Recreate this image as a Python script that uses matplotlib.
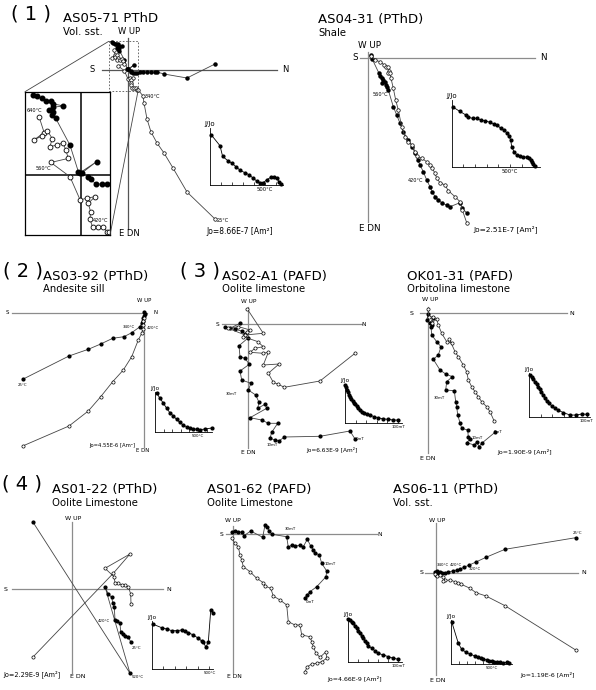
"""
Zijderveld diagrams (PThD / PAFD) with J/Jo decay insets, eight samples.
All projections use plot units measured from the origin; east/down is positive downwards.
"""
import matplotlib
matplotlib.use("Agg")
import matplotlib.pyplot as plt
from matplotlib.patches import Rectangle, ConnectionPatch

W, H = 596, 690

# ---------------------------------------------------------------- data
# (north, east) horizontal projection = filled, (north, down) vertical = open

as0571_hor = [(-16.3, -27.6), (-14.9, -27.2), (-13.4, -26.4), (-12.0, -25.6), (-10.3, -25.6),
              (-9.4, -24.5), (-6.0, -23.8), (-9.7, -23.3), (-10.8, -22.4), (-9.4, -21.8),
              (-10.0, -20.7), (-8.6, -19.5), (-3.7, -10.3), (-0.8, -1.1), (-0.2, -0.8),
              (5.5, -4.6), (0.3, -0.6), (2.6, 0.6), (3.4, 1.5), (5.3, 3.1), (7.2, 3.2),
              (9.2, 3.1), (12, 2), (15, 2), (19, 2), (23, 2), (27, 2), (29, 2), (36, 4),
              (59, 8), (87, -6)]
as0571_ver = [(-14.3, -19.9), (-12.6, -14.6), (-16.1, -12.1), (-13.4, -13.4), (-11.5, -15.3),
              (-9.8, -12.5), (-10.6, -9.8), (-8.0, -10.3), (-6.2, -11.1), (-5.1, -8.6),
              (-4.3, -5.7), (-10.3, -4.3), (-3.7, 0.6), (-0.2, 8.6), (2.1, 8.0), (4.9, 7.5),
              (2.6, 9.8), (3.4, 12.6), (3.2, 15.3), (4.1, 18.0), (6.1, 18.0), (7.8, 17.8),
              (9.0, 19.5), (9.9, 19.5), (15, 26), (16, 33), (19, 49), (23, 62), (29, 73),
              (36, 83), (45, 98), (59, 122), (87, 149)]
as0571_T = [9, 91, 115, 161, 197, 236, 273, 318, 357, 394, 425, 455, 485, 515, 552, 582, 606, 630, 645]
as0571_J = [0.99, 0.77, 0.56, 0.48, 0.43, 0.36, 0.29, 0.24, 0.20, 0.13, 0.08, 0.045, 0.045,
            0.10, 0.15, 0.16, 0.13, 0.06, 0.01]

as0431_hor = [(3, -2.7), (4.3, 1.6), (11, 15.6), (12, 18.3), (13.7, 20.6), (15.3, 22.3), (14.3, 25),
              (17, 24), (17.7, 27.3), (18.7, 29), (20.3, 32.3), (25.3, 49), (28.7, 57.3), (32, 65.6),
              (35.3, 74), (40.3, 82.3), (44.3, 89), (47, 95.6), (49.7, 102.3), (52, 107.3),
              (55.3, 114), (58.7, 122.3), (62, 129), (64.3, 134), (67, 139), (70.3, 142.3),
              (74.3, 145.6), (78.7, 147.3), (82, 149), (92, 145), (94.3, 150.6), (99, 155.6)]
as0431_ver = [(3, -1.7), (7, 2.3), (12, 4), (16.3, 7.3), (17.7, 9), (20.3, 9.6), (21.3, 13),
              (20.3, 15), (22, 15.6), (23, 20.6), (25.3, 30.6), (27.7, 42.3), (30.3, 52.3),
              (33.7, 69), (37, 79), (40.3, 84), (44.3, 87.3), (47, 94), (48.7, 98.3), (53.7, 100.6),
              (58.7, 104), (62, 107.3), (64.3, 110.6), (67, 115.6), (68.7, 120.6), (72, 125),
              (77, 127.3), (80.3, 133), (87, 139), (92, 144), (94.3, 152.3), (98.7, 165)]
as0431_T = [14, 71, 122, 142, 180, 214, 249, 286, 328, 363, 391, 420, 448, 471, 491, 506, 514,
            534, 557, 585, 614, 648, 666, 677, 686, 700, 717]
as0431_J = [1.0, 0.93, 0.87, 0.83, 0.815, 0.815, 0.786, 0.775, 0.747, 0.719, 0.70, 0.646, 0.618,
            0.573, 0.517, 0.45, 0.337, 0.253, 0.197, 0.18, 0.168, 0.158, 0.141, 0.113, 0.074,
            0.045, 0.017]

as0392_hor = [(0, -1), (0.5, 1.3), (-0.2, 3.3), (-0.7, 5.3), (-1.3, 8), (-2.3, 10.6), (-4, 14),
              (-12.3, 20), (-20, 24), (-31.3, 25.6), (-43.3, 31.3), (-55.7, 36.6), (-75, 43.3),
              (-121.3, 66.6)]
as0392_ver = [(-0.5, 5.3), (-0.7, 8.3), (-0.7, 12.3), (-1.3, 16.6), (-2.3, 20.6), (-5.7, 27.3),
              (-12.3, 44), (-20.7, 57.3), (-31.3, 69), (-43.3, 84), (-55.7, 98.3), (-75, 113.3),
              (-121.3, 133.3)]
as0392_T = [20, 58, 97, 136, 174, 213, 252, 291, 329, 368, 407, 445, 484, 523, 581, 659]
as0392_J = [1, 0.87, 0.74, 0.61, 0.49, 0.41, 0.32, 0.24, 0.17, 0.13, 0.096, 0.078, 0.063,
            0.052, 0.07, 0.096]

as02a1_hor = [(-8.3, -1.0), (-18.3, 4.0), (-23.3, 3.0), (-13.3, 5.0), (-6.6, 6.7), (-3.3, 10.0),
              (-0.6, 14.0), (-9.3, 21.4), (-8.3, 32.4), (-3.3, 34.0), (1.0, 40.0), (-8.3, 46.7),
              (-6.6, 55.7), (2.7, 59.0), (0.0, 65.7), (7.4, 70.7), (10.7, 78.0), (9.4, 84.0),
              (16.7, 80.0), (18.4, 84.0), (1.7, 93.4), (13.4, 95.7), (20.0, 99.0), (29.4, 99.0),
              (23.4, 108.0), (21.7, 114.0), (26.7, 115.7), (30.7, 116.7), (36.0, 112.7),
              (71.7, 112.0), (101.7, 106.7), (106.7, 114.7)]
as02a1_ver = [(-1.0, -15.3), (15.0, 9.0), (-3.3, 10.7), (-20.0, 4.0), (-10.0, 2.3), (1.7, 5.7),
              (-1.7, 7.3), (-5.0, 12.3), (9.4, 17.3), (15.0, 22.4), (6.7, 24.0), (1.7, 28.0),
              (15.0, 29.0), (20.0, 28.0), (15.0, 40.7), (30.7, 39.7), (20.0, 49.0), (25.0, 58.0),
              (30.0, 60.0), (36.0, 63.0), (71.7, 56.7), (106.7, 29.0)]
as02a1_mT = [0, 1.3, 3.1, 5.0, 6.9, 9.4, 11.9, 14.5, 17.0, 19.5, 22.0, 25.2, 28.3, 31.4, 35.8,
             40.9, 47.2, 55.3, 62.9, 72.3, 81.8, 91.2, 100]
as02a1_J = [1.0, 0.94, 0.87, 0.81, 0.75, 0.69, 0.63, 0.58, 0.53, 0.49, 0.44, 0.38, 0.34, 0.29,
            0.27, 0.23, 0.20, 0.16, 0.13, 0.10, 0.09, 0.07, 0.07]

ok0131_hor = [(0.6, 0.7), (-1, 6.7), (2.3, 9.4), (5.6, 5), (4, 11.7), (3.3, 13.4), (4, 21.7),
              (9, 28.4), (13.3, 33.4), (10.6, 41.7), (5.6, 46), (12.3, 56.7), (18, 60.7),
              (24.6, 63.4), (19, 68.4), (18, 76.7), (26.6, 77.4), (28, 88.4), (29, 93.4),
              (30, 101.7), (32.3, 109.4), (34, 115), (40, 116.7), (40.6, 123.4), (42.3, 126),
              (39, 129.4), (46.6, 131.7), (49, 128.4), (51.3, 133.4), (54, 130), (67.3, 119)]
ok0131_ver = [(0, -4), (1.6, 4.0), (5.6, 3.4), (4, 9.4), (9, 6), (10.6, 11.7), (14, 20),
              (19, 28.4), (24, 30), (21.6, 25.4), (27.3, 38.4), (30.6, 43.4), (35.6, 51.7),
              (39, 58.4), (40.6, 66.7), (44, 73.4), (47.3, 78.4), (50.6, 83.4), (54, 88.4),
              (59, 93.4), (62.3, 98.4), (66.3, 107.4)]
ok0131_mT = [1, 4, 7, 10, 13, 16, 19, 21, 24, 27, 30, 35, 39, 45, 50, 59, 71, 82, 91, 100]
ok0131_J = [1, 0.96, 0.9, 0.84, 0.78, 0.72, 0.66, 0.59, 0.52, 0.44, 0.38, 0.32, 0.26, 0.2,
            0.16, 0.1, 0.04, 0.04, 0.065, 0.058]

as0122_hor = [(59.0, 52.4), (56.6, 48.0), (53.6, 46.7), (51.0, 44.7), (49.0, 42.7), (48.3, 34.0),
              (45.6, 31.4), (43.3, 30.7), (42.6, 17.4), (41.0, 13.4), (40.0, 8.0), (36.6, 4.7),
              (33.3, -2.6), (58.3, 84.0), (-39.0, -67.6)]
as0122_ver = [(59.3, 14.7), (59.0, 4.7), (56.6, -2.6), (53.3, -4.3), (50.0, -4.3), (46.6, -6.0),
              (43.3, -6.6), (42.3, -12.6), (33.3, -21.0), (58.3, -35.3), (41.6, -16.0),
              (-39.0, 68.0)]
as0122_T = [14, 86, 130, 173, 216, 260, 288, 317, 360, 404, 433, 447, 470, 490, 511, 533]
as0122_J = [1, 0.925, 0.896, 0.859, 0.859, 0.874, 0.859, 0.815, 0.763, 0.689, 0.63, 0.6,
            0.489, 0.615, 1.318, 1.259]

as0162_hor = [(-1.0, -2.6), (2.3, -3.3), (5.6, -2.6), (9.0, -2.0), (11.3, 1.4), (18.0, -3.3),
              (30.0, 3.0), (32.3, -9.3), (34.6, -7.0), (36.6, -3.6), (39.0, 0.0), (54.0, 2.4),
              (55.6, 13.0), (59.0, 10.7), (62.3, 11.7), (67.3, 11.0), (70.6, 12.4), (74.6, 5.0),
              (78.0, 11.7), (80.6, 15.7), (82.3, 18.4), (86.6, 20.7), (89.0, 29.0), (94.0, 36.7),
              (93.3, 42.4), (84.0, 52.4), (77.3, 57.4), (74.0, 60.7), (72.6, 64.0)]
as0162_ver = [(-1.0, 4.0), (2.3, 9.0), (5.6, 12.4), (7.3, 20.7), (9.0, 25.7), (10.6, 32.4),
              (17.3, 37.4), (24.0, 44.0), (30.6, 48.4), (32.3, 51.7), (38.0, 54.0), (40.6, 61.7),
              (47.3, 65.7), (54.0, 70.7), (55.6, 87.4), (62.3, 90.7), (67.3, 90.7), (69.0, 100.7),
              (77.3, 102.4), (79.0, 107.4), (80.6, 112.4), (83.3, 119.0), (87.3, 123.0),
              (93.3, 117.4), (94.0, 124.0), (89.0, 127.4), (84.0, 129.0), (79.0, 129.7),
              (74.6, 132.4), (72.3, 137.4)]
as0162_mT = [1, 5, 8, 11, 15, 18, 21, 24, 28, 31, 35, 38, 41, 48, 54, 61, 71, 81, 91, 101]
as0162_J = [1, 0.977, 0.937, 0.899, 0.836, 0.782, 0.719, 0.665, 0.602, 0.548, 0.485, 0.431,
            0.375, 0.313, 0.257, 0.197, 0.157, 0.117, 0.08, 0.056]

as0611_hor = [(140.0, -35.0), (69.3, -23.4), (50.3, -15.4), (40.3, -10.7), (33.6, -7.7),
              (28.3, -5.4), (24.3, -3.7), (21.0, -2.7), (17.0, -1.7), (12.6, -0.7), (9.3, 0.0),
              (6.0, 0.7), (3.6, 0.0), (1.0, 1.3), (-0.7, -1.0), (1.6, -2.0), (4.3, -1.0), (0.3, 2.3)]
as0611_ver = [(-0.7, 1.3), (1.0, 3.3), (4.3, 2.3), (7.6, 4.7), (9.3, 7.3), (7.0, 8.0), (14.3, 7.3),
              (19.3, 9.0), (22.6, 10.7), (25.0, 11.3), (34.3, 15.6), (40.3, 20.0), (50.3, 23.3),
              (69.3, 33.0), (140.0, 77.3)]
as0611_T = [12, 93, 134, 187, 235, 296, 337, 366, 398, 439, 471, 500, 528, 561, 601, 642, 683, 711]
as0611_J = [1, 0.489, 0.347, 0.276, 0.236, 0.189, 0.158, 0.134, 0.118, 0.095, 0.078, 0.071,
            0.054, 0.047, 0.04, 0.031, 0.04, 0.017]

# ---------------------------------------------------------------- helpers
fig = plt.figure(figsize=(W / 100, H / 100), dpi=100)
fig.patch.set_facecolor("white")

LINE = "#444444"
STEP_BIG, STEP_SMALL = 3.6, 2.8   # step labels (°C / mT)


def ftext(x, y, s, size=6, ha="center", va="center", **kw):
    """Text placed in reference pixel coordinates."""
    fig.text(x / W, 1 - y / H, s, fontsize=size, ha=ha, va=va, **kw)


def plot_proj(ax, hor, ver, ms=2.2, lw=0.6, mew=0.5):
    n, e = zip(*hor)
    ax.plot(n, e, "-o", color=LINE, lw=lw, mfc="k", mec="k", ms=ms, clip_on=False)
    n, e = zip(*ver)
    ax.plot(n, e, "-o", color=LINE, lw=lw, mfc="white", mec="k", mew=mew, ms=ms + 0.3,
            clip_on=False)


def zpanel(ox, oy, hx, vy, hor, ver, axcolor="#8c8c8c", ms=2.2):
    ax = fig.add_axes([0, 0, 1, 1])
    ax.set_xlim(-ox, W - ox)
    ax.set_ylim(H - oy, -oy)
    ax.axis("off")
    ax.plot([hx[0] - ox, hx[1] - ox], [0, 0], color=axcolor, lw=0.9)
    ax.plot([0, 0], [vy[0] - oy, vy[1] - oy], color=axcolor, lw=0.9)
    plot_proj(ax, hor, ver, ms=ms)
    return ax


def decay(x0, y0, x1, y1, xmax, ymax, x, j, ticks, lab, lab_txt, small=True):
    ax = fig.add_axes([x0 / W, 1 - y1 / H, (x1 - x0) / W, (y1 - y0) / H])
    ax.set_xlim(0, xmax)
    ax.set_ylim(0, ymax)
    ax.patch.set_alpha(0)
    for s in ("top", "right"):
        ax.spines[s].set_visible(False)
    for s in ("left", "bottom"):
        ax.spines[s].set_linewidth(0.6)
    ax.plot(x, j, "-o", color="k", lw=0.6, ms=2.0, clip_on=False)
    ax.set_xticks(ticks)
    ax.set_xticklabels([lab_txt if t == lab else "" for t in ticks])
    ax.tick_params(axis="x", direction="in", length=2, width=0.5,
                   labelsize=2.9 if small else 3.8, pad=1.5)
    ax.set_yticks([])
    ax.text(0, 1.02, "J/Jo", transform=ax.transAxes, ha="center", va="bottom",
            fontsize=4.2 if small else 5)
    return ax


def heading(num, nx, title, sub, tx, base):
    if num:
        ftext(nx, base - 3.5, num, size=14, ha="left", va="baseline")
    ftext(tx, base, title, size=9.5, ha="left", va="baseline")
    ftext(tx, base + 12.5, sub, size=7.3, ha="left", va="baseline")


def axis_labels(oy, s_x, n_x, up, dn, size):
    ftext(s_x, oy, "S", size=size)
    ftext(n_x, oy, "N", size=size)
    ftext(up[0], up[1], "W UP", size=size)
    ftext(dn[0], dn[1], "E DN", size=size)


# ---------------------------------------------------------------- (1) AS05-71
heading("( 1 )", 11, "AS05-71 PThD", "Vol. sst.", 63, 22.5)
ax1 = zpanel(128, 70, (102, 277), (38, 229), as0571_hor, as0571_ver, axcolor="#555555")
axis_labels(70, 92, 285, (129, 32), (129, 233), 6)
zx0, zx1, zy0, zy1 = -19.2, 10.1, -28.7, 20.7
ax1.add_patch(Rectangle((zx0, zy0), zx1 - zx0, zy1 - zy0, fill=False, ec="#555555",
                        lw=0.6, ls=(0, (2, 2))))
axz = fig.add_axes([25 / W, 1 - 235 / H, 85 / W, 143.3 / H])
axz.set_xlim(zx0, zx1)
axz.set_ylim(zy1, zy0)
axz.set_xticks([])
axz.set_yticks([])
for s in axz.spines.values():
    s.set_linewidth(0.9)
axz.axhline(0, color="k", lw=1.1)
axz.axvline(0, color="k", lw=1.1)
n, e = zip(*as0571_hor)
axz.plot(n, e, "-o", color=LINE, lw=0.6, mfc="k", mec="k", ms=3.3)
n, e = zip(*as0571_ver)
axz.plot(n, e, "-o", color=LINE, lw=0.6, mfc="white", mec="k", mew=0.6, ms=3.5)
for xyA, xyB in [((zx0, zy0), (0, 1)), ((zx1, zy1), (1, 0))]:
    fig.add_artist(ConnectionPatch(xyA=xyA, coordsA=ax1.transData, xyB=xyB,
                                   coordsB=axz.transAxes, color="#444444", lw=0.6))
ftext(145, 96, "340°C", size=STEP_BIG, ha="left")
ftext(217, 221, "25°C", size=STEP_BIG, ha="left")
ftext(27, 110, "640°C", size=STEP_BIG, ha="left")
ftext(36, 168, "560°C", size=STEP_BIG, ha="left")
ftext(93, 220, "420°C", size=STEP_BIG, ha="left")
ftext(240, 231, "Jo=8.66E-7 [Am²]", size=5.5)
decay(210, 128, 283, 185, 664, 1.118, as0571_T, as0571_J, list(range(100, 700, 100)),
      500, "500°C", small=False)

# ---------------------------------------------------------------- AS04-31
heading(None, 0, "AS04-31 (PThD)", "Shale", 318, 23)
zpanel(368, 57.7, (360, 535), (52, 222), as0431_hor, as0431_ver)
axis_labels(57.7, 355, 543, (370, 45), (370, 228.5), 6.3)
ftext(373, 95, "560°C", size=STEP_BIG, ha="left")
ftext(408, 180.7, "420°C", size=STEP_BIG, ha="left")
ftext(506, 229, "Jo=2.51E-7 [Am²]", size=5.3)
decay(451.7, 100, 540, 166.7, 757, 1.123, as0431_T, as0431_J, list(range(100, 800, 100)),
      500, "500°C", small=False)

# ---------------------------------------------------------------- (2) AS03-92
heading("( 2 )", 3, "AS03-92 (PThD)", "Andesite sill", 43, 280)
zpanel(144, 312.7, (12, 147), (311, 447), as0392_hor, as0392_ver, ms=2.0)
axis_labels(312.7, 7, 155, (144, 300.5), (143, 451), 3.9)
ftext(135, 326.7, "340°C", size=STEP_SMALL, ha="right")
ftext(146.7, 327.7, "420°C", size=STEP_SMALL, ha="left")
ftext(22.5, 385, "25°C", size=STEP_SMALL)
ftext(112, 445.5, "Jo=4.55E-6 [Am²]", size=3.8)
decay(155, 391.7, 212, 431.7, 663, 1.04, as0392_T, as0392_J, list(range(100, 700, 100)),
      500, "500°C")

# ---------------------------------------------------------------- (3) AS02-A1
heading("( 3 )", 180, "AS02-A1 (PAFD)", "Oolite limestone", 221.7, 280)
zpanel(248.3, 324.3, (222, 362), (307, 448), as02a1_hor, as02a1_ver, ms=2.0)
axis_labels(324.3, 217.7, 364, (249, 301), (248, 452), 4.2)
ftext(231.7, 394.3, "30mT", size=STEP_SMALL)
ftext(271.7, 445, "10mT", size=STEP_SMALL)
ftext(360, 439.3, "0mT", size=STEP_SMALL)
ftext(331.5, 450, "Jo=6.63E-9 [Am²]", size=4.2)
decay(345, 384, 402, 422.7, 107.5, 1.03, as02a1_mT, as02a1_J, [20, 40, 60, 80, 100],
      100, "100mT")

# ---------------------------------------------------------------- OK01-31
heading(None, 0, "OK01-31 (PAFD)", "Orbitolina limestone", 406.7, 280)
zpanel(427.7, 313.3, (420, 567), (307, 453), ok0131_hor, ok0131_ver, ms=2.0)
axis_labels(313.3, 412, 572, (430, 300), (428, 459), 4.5)
ftext(439.3, 398.3, "30mT", size=STEP_SMALL)
ftext(476.7, 438.3, "10mT", size=STEP_SMALL)
ftext(498.3, 432.3, "0mT", size=STEP_SMALL)
ftext(525, 452, "Jo=1.90E-9 [Am²]", size=4.5)
decay(529.3, 373, 590, 416.7, 105.7, 1.05, ok0131_mT, ok0131_J, [20, 40, 60, 80, 100],
      100, "100mT")

# ---------------------------------------------------------------- (4) AS01-22
heading("( 4 )", 1.5, "AS01-22 (PThD)", "Oolite Limestone", 51.7, 493.5)
zpanel(71.7, 589.3, (12, 163), (522, 673), as0122_hor, as0122_ver, ms=2.0)
axis_labels(589.3, 6, 168.5, (73, 518.3), (78, 677), 4.5)
ftext(110, 621, "420°C", size=STEP_SMALL, ha="right")
ftext(136.7, 648.3, "25°C", size=STEP_SMALL)
ftext(137.5, 676.7, "520°C", size=STEP_SMALL)
ftext(3, 674, "Jo=2.29E-9 [Am²]", size=4.7, ha="left")
decay(151.7, 621, 213.3, 669.3, 533, 1.074, as0122_T, as0122_J, list(range(100, 600, 100)),
      500, "500°C")

# ---------------------------------------------------------------- AS01-62
heading(None, 0, "AS01-62 (PAFD)", "Oolite Limestone", 206.7, 493.5)
zpanel(232.7, 534.3, (226, 377), (526, 673), as0162_hor, as0162_ver, ms=2.0)
axis_labels(534.3, 222, 380, (232.5, 520), (234, 677), 4.3)
ftext(290, 529.3, "30mT", size=STEP_SMALL)
ftext(330, 564, "10mT", size=STEP_SMALL)
ftext(310, 602.3, "0mT", size=STEP_SMALL)
ftext(354.5, 679, "Jo=4.66E-9 [Am²]", size=4.5)
decay(347.7, 618.3, 402, 661.7, 108, 1.016, as0162_mT, as0162_J, [20, 40, 60, 80, 100],
      100, "100mT")

# ---------------------------------------------------------------- AS06-11
heading(None, 0, "AS06-11 (PThD)", "Vol. sst.", 393.3, 493.5)
zpanel(435.7, 572.7, (425, 578), (523, 675), as0611_hor, as0611_ver, ms=2.0)
axis_labels(572.7, 421.7, 583.3, (437, 520), (438, 681), 4.5)
ftext(442.5, 565.3, "340°C", size=STEP_SMALL)
ftext(456, 565.3, "420°C", size=STEP_SMALL)
ftext(475, 568.7, "320°C", size=STEP_SMALL)
ftext(578, 532.7, "25°C", size=STEP_SMALL)
ftext(548, 675, "Jo=1.19E-6 [Am²]", size=4.5)
decay(450.7, 620, 511.7, 664, 744, 1.04, as0611_T, as0611_J, list(range(100, 800, 100)),
      500, "500°C")

fig.savefig("out.png", dpi=100)
